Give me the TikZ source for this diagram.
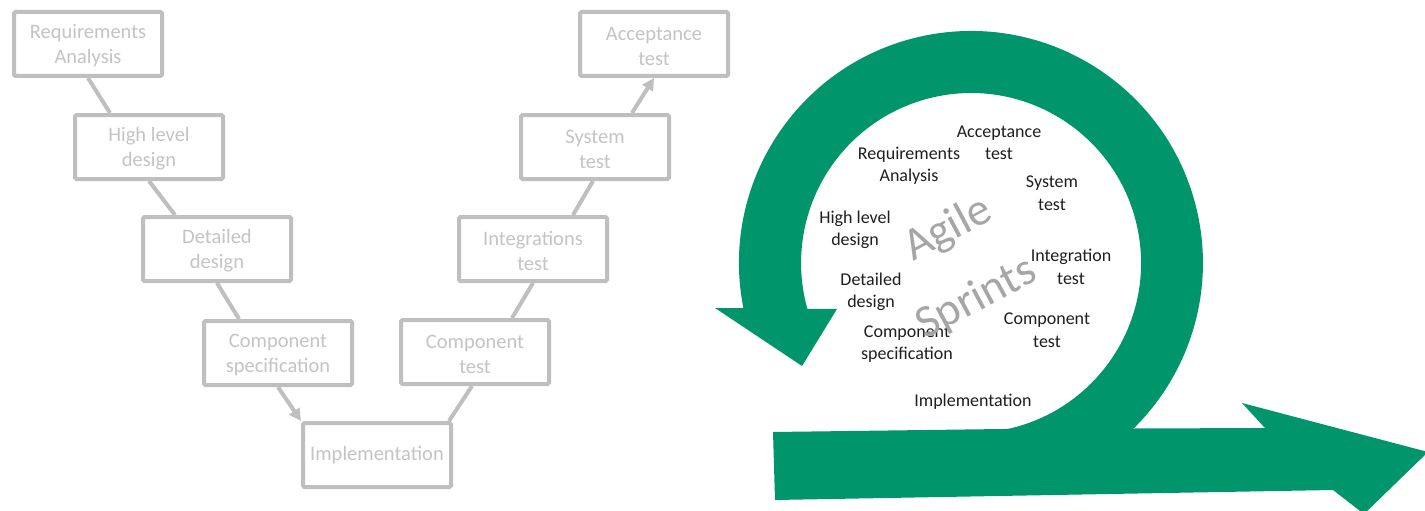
\documentclass[tikz,border=0pt]{standalone}
\usepackage{fontspec}
\setmainfont{Carlito}
\usetikzlibrary{arrows.meta,calc}
\definecolor{vgray}{RGB}{191,191,191}
\definecolor{vtext}{RGB}{196,196,196}
\definecolor{agreen}{RGB}{0,149,107}
\definecolor{sprgray}{RGB}{166,166,166}
\begin{document}
\begin{tikzpicture}[x=1pt,y=-1pt,
  vbox/.style={draw=vgray,line width=4pt,minimum width=148pt,minimum height=64pt,inner sep=0pt,align=center,text=vtext,font=\fontsize{20.5}{25}\selectfont,rounded corners=1.5pt},
  vline/.style={draw=vgray,line width=4pt},
  varrow/.style={vline,-{Triangle[length=12pt,width=12pt]}},
  ltext/.style={align=center,text=black!88,font=\fontsize{18}{22.5}\selectfont,inner sep=0pt},
  wm/.style={text=sprgray,font=\fontsize{46}{46}\selectfont,rotate=28,anchor=base west,inner sep=0pt},
  greenfill/.style={fill=agreen}]
\clip (0,0) rectangle (1425,511);
\fill[white] (0,0) rectangle (1425,511);

% V-model boxes
\node[vbox] (req)   at (88,44)   {\strut Requirements\\Analysis};
\node[vbox] (high)  at (149,147) {\strut High level\\design};
\node[vbox] (det)   at (217,249) {\strut Detailed\\design};
\node[vbox] (spec)  at (278,353) {\strut Component\\specification};
\node[vbox] (impl)  at (377,455) {\strut Implementation};
\node[vbox] (ct)    at (475,352) {\strut Component\\test};
\node[vbox] (integ) at (533,249) {\strut Integrations\\test};
\node[vbox] (sys)   at (595,147) {\strut System\\test};
\node[vbox] (acc)   at (654,44)  {\strut Acceptance\\test};

% V-model connectors
\draw[vline] (req.south) -- ($(high.north)+(-39,0)$);
\draw[vline] (high.south) -- ($(det.north)+(-42,0)$);
\draw[vline] (det.south) -- ($(spec.north)+(-39,0)$);
\draw[varrow] (spec.south) -- (impl.north west);
\draw[vline] ($(impl.north east)+(-4,0)$) -- ($(ct.south)+(-3,0)$);
\draw[vline] ($(ct.north)+(37,0)$) -- (integ.south);
\draw[vline] ($(integ.north)+(40,0)$) -- ($(sys.south)+(-2,0)$);
\draw[varrow] ($(sys.north)+(37,0)$) -- (acc.south);

% Agile loop
\fill[greenfill] (744.2,312.0) arc[start angle=167.8, end angle=406, radius=232]
  -- (1002.9,430.0) arc[start angle=439.2, end angle=163.25, radius=170] -- cycle;
\fill[greenfill] (715,308) -- (837,309) -- (802,366) -- cycle;
\fill[greenfill] (773,432) -- (1003,429) -- (1265,428) -- (1242,403) -- (1428,452)
  -- (1364,514) -- (1333,490) -- (775,500) -- cycle;

% Agile labels
\node[ltext] (areq)  at (909,166) {Requirements\\Analysis};
\node[ltext] (aacc)  at (999,143) {Acceptance\\test};
\node[ltext] (asys)  at (1052,193) {System\\test};
\node[ltext] (ahigh) at (855,230) {High level\\design};
\node[ltext] (aint)  at (1071,267) {Integration\\test};
\node[ltext] (adet)  at (871,292) {Detailed\\design};
\node[ltext] (aspec) at (907,344) {Component\\specification};
\node[ltext] (act)   at (1047,330) {Component\\test};
\node[ltext] (aimpl) at (973,402) {Implementation};

\node[wm] (agile)   at (913,262) {Agile};
\node[wm] (sprints) at (925,340) {Sprints};
\end{tikzpicture}
\end{document}
